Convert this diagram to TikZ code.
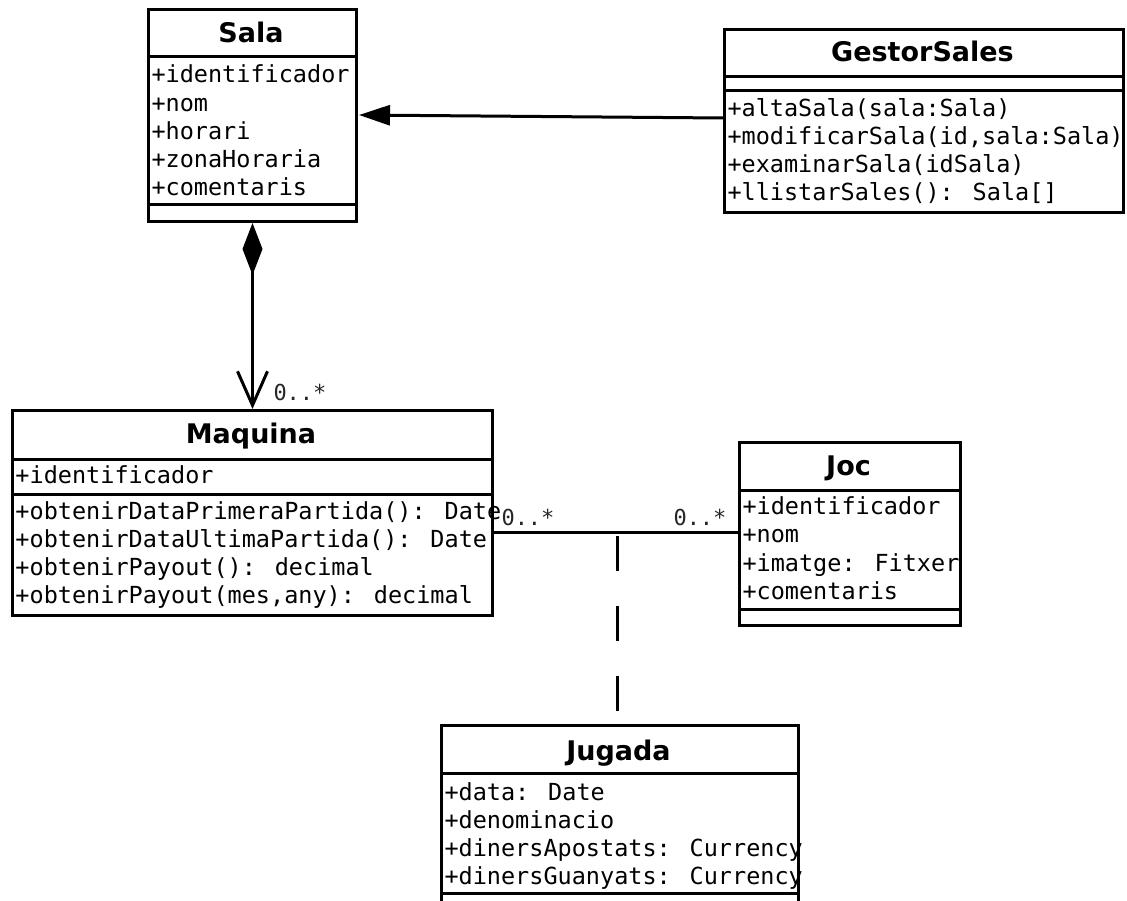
\documentclass[tikz,border=0pt]{standalone}
\usepackage{fontspec}
\newfontfamily\ttlfont{DejaVu Sans}
\newfontfamily\monofont{DejaVu Sans Mono}
\usetikzlibrary{arrows.meta,calc}
\begin{document}
\begin{tikzpicture}[x=1pt,y=-1pt,line width=3pt,
  cls/.style={draw,line width=3pt,inner sep=0pt,anchor=north west},
  ttl/.style={inner sep=0pt,anchor=base,font=\ttlfont\bfseries\fontsize{27}{32}\selectfont},
  mem/.style={inner sep=0pt,anchor=base west,font=\monofont\fontsize{23.5}{28}\selectfont},
  mult/.style={inner sep=0pt,anchor=base west,text=black!85,font=\monofont\fontsize{22}{26}\selectfont}]
\clip (0,0) rectangle (1127,901);
\useasboundingbox (0,0) rectangle (1127,901);
\fill[white] (0,0) rectangle (1127,901);

% ---- Sala
\node[cls,minimum width=208pt,minimum height=212pt] (sala) at (147,8) {};
\draw ($(sala.north west)+(0,49)$) -- ($(sala.north east)+(0,49)$);
\draw ($(sala.north west)+(0,197)$) -- ($(sala.north east)+(0,197)$);
\node[ttl] (salat) at (251,43) {Sala};
\node[mem] (sala1) at (150,83) {+identificador};
\node[mem] (sala2) at (150,111.25) {+nom};
\node[mem] (sala3) at (150,139.5) {+horari};
\node[mem] (sala4) at (150,167.75) {+zonaHoraria};
\node[mem] (sala5) at (150,196) {+comentaris};

% ---- GestorSales
\node[cls,minimum width=399pt,minimum height=183pt] (gestor) at (723,28) {};
\draw ($(gestor.north west)+(0,49)$) -- ($(gestor.north east)+(0,49)$);
\draw ($(gestor.north west)+(0,63)$) -- ($(gestor.north east)+(0,63)$);
\node[ttl] (gestort) at (922.5,62) {GestorSales};
\node[mem] (gestor1) at (726,117) {+altaSala(sala:Sala)};
\node[mem] (gestor2) at (726,145) {+modificarSala(id,sala:Sala)};
\node[mem] (gestor3) at (726,173) {+examinarSala(idSala)};
\node[mem] (gestor4) at (726,201) {+llistarSales(): Sala[]};

% ---- Maquina
\node[cls,minimum width=480pt,minimum height=205pt] (maq) at (11,409) {};
\draw ($(maq.north west)+(0,50)$) -- ($(maq.north east)+(0,50)$);
\draw ($(maq.north west)+(0,85)$) -- ($(maq.north east)+(0,85)$);
\node[ttl] (maqt) at (251,443) {Maquina};
\node[mem] (maq1) at (14,483) {+identificador};
\node[mem] (maq2) at (14,519) {+obtenirDataPrimeraPartida(): Date};
\node[mem] (maq3) at (14,547) {+obtenirDataUltimaPartida(): Date};
\node[mem] (maq4) at (14,575) {+obtenirPayout(): decimal};
\node[mem] (maq5) at (14,603) {+obtenirPayout(mes,any): decimal};

% ---- Joc
\node[cls,minimum width=221pt,minimum height=183pt] (joc) at (738,441) {};
\draw ($(joc.north west)+(0,49)$) -- ($(joc.north east)+(0,49)$);
\draw ($(joc.north west)+(0,168)$) -- ($(joc.north east)+(0,168)$);
\node[ttl] (joct) at (848.5,475) {Joc};
\node[mem] (joc1) at (741,514) {+identificador};
\node[mem] (joc2) at (741,542.5) {+nom};
\node[mem] (joc3) at (741,571) {+imatge: Fitxer};
\node[mem] (joc4) at (741,599.5) {+comentaris};

% ---- Jugada
\node[cls,minimum width=357pt,minimum height=200pt] (jug) at (440,724) {};
\draw ($(jug.north west)+(0,49)$) -- ($(jug.north east)+(0,49)$);
\draw ($(jug.north west)+(0,169)$) -- ($(jug.north east)+(0,169)$);
\node[ttl] (jugt) at (618.5,760) {Jugada};
\node[mem] (jug1) at (443,800) {+data: Date};
\node[mem] (jug2) at (443,828) {+denominacio};
\node[mem] (jug3) at (443,856) {+dinersApostats: Currency};
\node[mem] (jug4) at (443,884) {+dinersGuanyats: Currency};

% ---- connectors
\draw[-{Triangle[length=31pt,width=20pt]}]
  ($(gestor.north west)+(0,90)$) -- ($(sala.north east)+(1,107)$);
\draw[{Diamond[length=52pt,width=20pt]}-{Straight Barb[length=34pt,width=30pt]}]
  (sala.south) -- (maq.north);
\node[mult] (m1) at (272,400) {0..*};

\draw ($(maq.north east)+(0,123)$) -- ($(joc.north west)+(0,91)$);
\node[mult] (m2) at (500,525) {0..*};
\node[mult] (m3) at (672,525) {0..*};
\coordinate (mid) at (617,532);
\draw[line cap=butt,dash pattern=on 35pt off 35pt] ($(mid)+(0,4)$) -- (jug.north -| mid);
\end{tikzpicture}
\end{document}
